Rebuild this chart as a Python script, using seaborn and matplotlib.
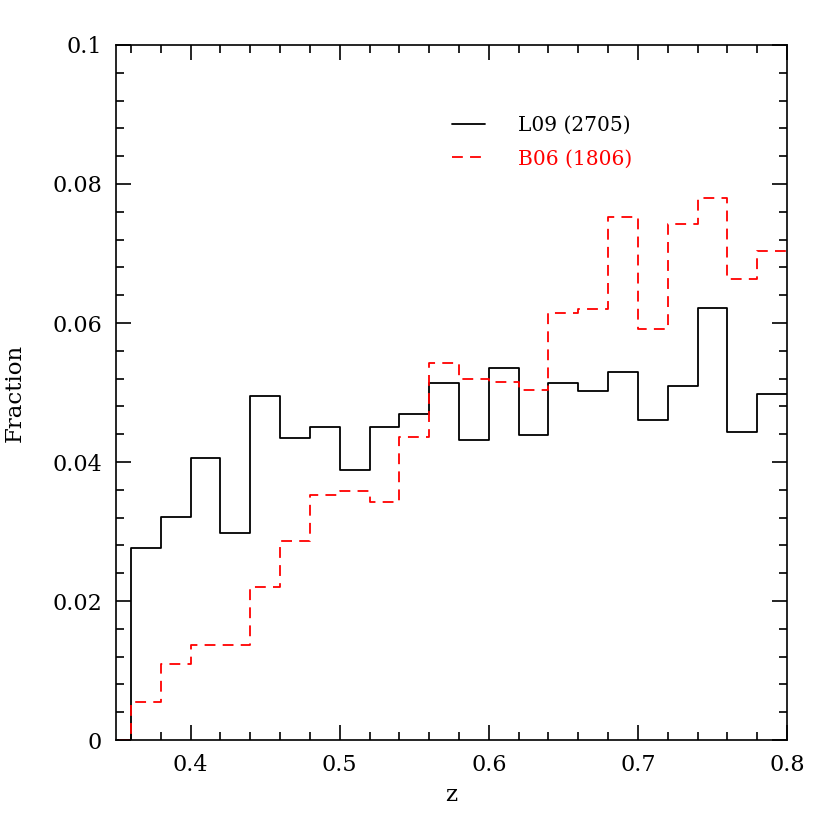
import matplotlib
matplotlib.use("Agg")
import matplotlib.pyplot as plt
import numpy as np
import seaborn as sns
from matplotlib.ticker import FuncFormatter, MultipleLocator

# bin edges in z (width 0.02), first bin empty
edges = [0.34, 0.36, 0.38, 0.40, 0.42, 0.44, 0.46, 0.48, 0.50, 0.52, 0.54,
         0.56, 0.58, 0.60, 0.62, 0.64, 0.66, 0.68, 0.70, 0.72, 0.74, 0.76,
         0.78, 0.80]

l09_frac = [0.0, 0.0276, 0.0321, 0.0406, 0.0298, 0.0495, 0.0435, 0.0450,
            0.0388, 0.0450, 0.0469, 0.0513, 0.0432, 0.0535, 0.0439, 0.0514,
            0.0502, 0.0529, 0.0461, 0.0509, 0.0621, 0.0443, 0.0498]

b06_frac = [0.0, 0.0054, 0.0109, 0.0137, 0.0137, 0.0220, 0.0287, 0.0353,
            0.0359, 0.0342, 0.0436, 0.0542, 0.0520, 0.0515, 0.0503, 0.0614,
            0.0620, 0.0753, 0.0592, 0.0742, 0.0780, 0.0664, 0.0703]

labels = ["L09 (2705)", "B06 (1806)"]

sns.set_style("ticks")
plt.rcParams["font.family"] = ["DejaVu Serif"]
plt.rcParams["text.color"] = "black"
plt.rcParams["axes.labelcolor"] = "black"

centers = (np.array(edges[:-1]) + np.array(edges[1:])) / 2

fig = plt.figure(figsize=(8.3, 8.3), dpi=100)
ax = fig.add_axes([0.1398, 0.1084, 0.8084, 0.8374])

sns.histplot(x=centers, weights=l09_frac, bins=edges, element="step",
             fill=False, color="black", linewidth=1.3, label=labels[0], ax=ax)
sns.histplot(x=centers, weights=b06_frac, bins=edges, element="step",
             fill=False, color="#ff0000", linewidth=1.3, linestyle=(0, (6, 4)),
             label=labels[1], ax=ax)

ax.set_xlim(0.35, 0.8)
ax.set_ylim(0, 0.1)
ax.set_xlabel("z", fontsize=16.5, labelpad=6)
ax.set_ylabel("Fraction", fontsize=16.5, labelpad=19)

ax.xaxis.set_major_locator(MultipleLocator(0.1))
ax.xaxis.set_minor_locator(MultipleLocator(0.02))
ax.yaxis.set_major_locator(MultipleLocator(0.02))
ax.yaxis.set_minor_locator(MultipleLocator(0.004))
fmt = FuncFormatter(lambda v, p: f"{v:g}")
ax.xaxis.set_major_formatter(fmt)
ax.yaxis.set_major_formatter(fmt)
ax.tick_params(which="both", direction="in", top=True, right=True,
               labelsize=16, width=1.2, colors="black")
ax.tick_params(which="major", length=11, pad=10)
ax.tick_params(which="minor", length=6)
for s in ax.spines.values():
    s.set_visible(True)
    s.set_linewidth(1.2)
    s.set_color("black")

leg = ax.legend(loc="upper left", bbox_to_anchor=(0.474, 0.924), frameon=False,
                fontsize=14.5, handlelength=1.64, handletextpad=1.64,
                labelspacing=0.72)
leg.get_texts()[0].set_color("black")
leg.get_texts()[1].set_color("#ff0000")

fig.savefig("out.png", dpi=100)
